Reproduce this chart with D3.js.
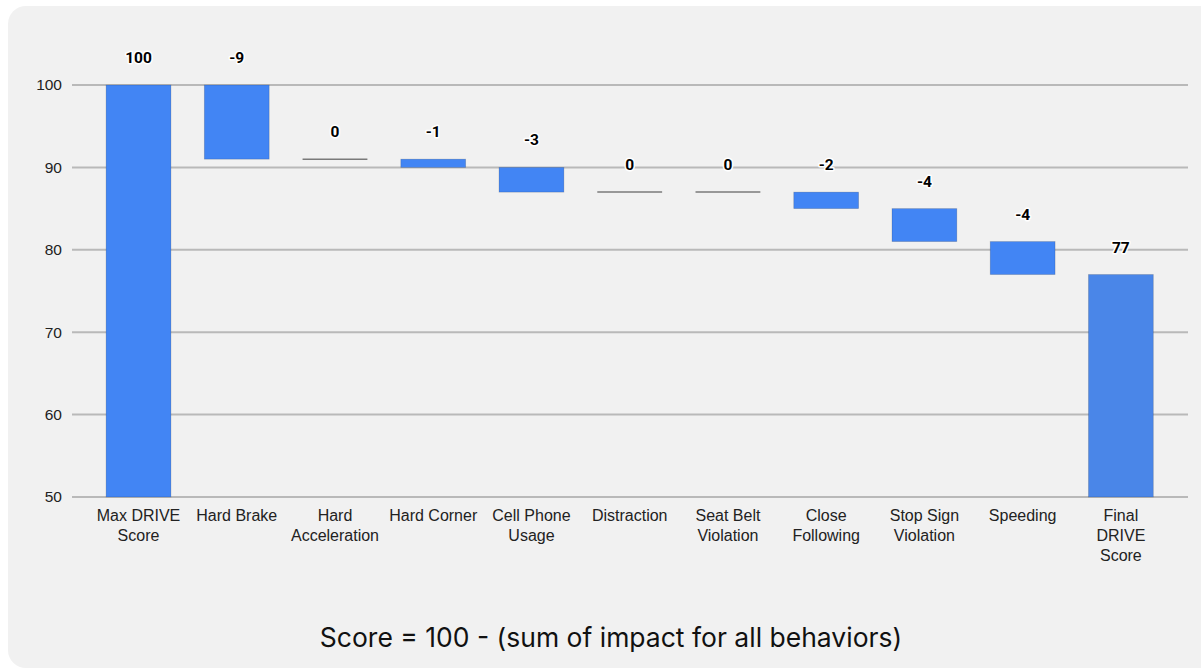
<!DOCTYPE html>
<html>
<head>
<meta charset="utf-8">
<script src="https://cdn.jsdelivr.net/npm/d3@7"></script>
<style>
  html, body { margin: 0; padding: 0; background: #ffffff; }
  svg { display: block; }
</style>
</head>
<body>
<svg id="chart" width="1201" height="670"></svg>
<script>
// Behaviour categories (| marks a line break in the label)
const categories = [
  "Max DRIVE|Score", "Hard Brake", "Hard|Acceleration", "Hard Corner",
  "Cell Phone|Usage", "Distraction", "Seat Belt|Violation", "Close|Following",
  "Stop Sign|Violation", "Speeding", "Final|DRIVE|Score"
];
// Start total, per-behaviour impacts, and final total
const values = [100, -9, 0, -1, -3, 0, 0, -2, -4, -4, 77];
const isTotal = [true, false, false, false, false, false, false, false, false, false, true];
const yTicks = [50, 60, 70, 80, 90, 100];
const caption = "Score = 100 - (sum of impact for all behaviors)";

const svg = d3.select("#chart");

// Card background
svg.append("rect")
  .attr("x", 8).attr("y", 6)
  .attr("width", 1210).attr("height", 662)
  .attr("rx", 18).attr("ry", 18)
  .attr("fill", "#f1f1f1");

// Running totals for the waterfall segments
let running = 0;
const bars = values.map((v, i) => {
  let lo, hi;
  if (isTotal[i]) { lo = 50; hi = v; running = v; }
  else { const start = running; running = start + v; lo = Math.min(start, running); hi = Math.max(start, running); }
  return { cat: categories[i], value: v, lo, hi, total: isTotal[i], end: running, last: i === values.length - 1 };
});

const x = d3.scaleBand()
  .domain(categories)
  .range([89.4, 1170])
  .paddingInner(0.34)
  .paddingOuter(0.17);

const y = d3.scaleLinear().domain([50, 100]).range([497, 85]);

// Gridlines
svg.append("g")
  .selectAll("line")
  .data(yTicks)
  .join("line")
  .attr("x1", 72).attr("x2", 1188)
  .attr("y1", d => y(d)).attr("y2", d => y(d))
  .attr("stroke", "#b9b9b9")
  .attr("stroke-width", 2);

// Y axis labels
const yAxis = d3.axisLeft(y).tickValues(yTicks).tickSize(0).tickPadding(0);
const ya = svg.append("g").attr("transform", "translate(62,0)").call(yAxis);
ya.select(".domain").remove();
ya.selectAll("text")
  .attr("font-family", "Liberation Sans, Arial, sans-serif")
  .attr("font-size", 15.5)
  .attr("fill", "#222");

// Bars (zero impacts drawn as a flat marker line)
const g = svg.append("g");
bars.forEach(b => {
  const bx = x(b.cat);
  const bw = x.bandwidth();
  if (b.value === 0) {
    g.append("line")
      .attr("x1", bx).attr("x2", bx + bw)
      .attr("y1", y(b.end)).attr("y2", y(b.end))
      .attr("stroke", "#7a7a7a")
      .attr("stroke-width", 1.5);
  } else {
    g.append("rect")
      .attr("x", bx).attr("y", y(b.hi))
      .attr("width", bw).attr("height", y(b.lo) - y(b.hi))
      .attr("fill", b.last ? "#4a86e8" : "#4285f4")
      .attr("stroke", "rgba(0,0,0,0.18)")
      .attr("stroke-width", 0.8);
  }
});

// Value labels with halo
svg.append("g")
  .selectAll("text")
  .data(bars)
  .join("text")
  .attr("x", b => x(b.cat) + x.bandwidth() / 2)
  .attr("y", b => y(b.hi) - 22)
  .attr("text-anchor", "middle")
  .attr("font-family", "Roboto, Liberation Sans, Arial, sans-serif")
  .attr("font-weight", "bold")
  .attr("font-size", 15.5)
  .attr("fill", "#000")
  .attr("stroke", "#ffffff")
  .attr("stroke-width", 3)
  .attr("stroke-linejoin", "round")
  .attr("paint-order", "stroke")
  .text(b => b.value);

// Category labels
const xg = svg.append("g");
categories.forEach(c => {
  const cx = x(c) + x.bandwidth() / 2;
  const t = xg.append("text")
    .attr("x", cx)
    .attr("y", 521)
    .attr("text-anchor", "middle")
    .attr("font-family", "Liberation Sans, Arial, sans-serif")
    .attr("font-size", 16)
    .attr("fill", "#222");
  c.split("|").forEach((ln, i) => {
    t.append("tspan")
      .attr("x", cx)
      .attr("dy", i === 0 ? 0 : 20)
      .text(ln);
  });
});

// Caption
svg.append("text")
  .attr("x", 611).attr("y", 647)
  .attr("text-anchor", "middle")
  .attr("font-family", "Inter, Roboto, sans-serif")
  .attr("font-size", 26.5)
  .attr("fill", "#111")
  .text(caption);
</script>
</body>
</html>
